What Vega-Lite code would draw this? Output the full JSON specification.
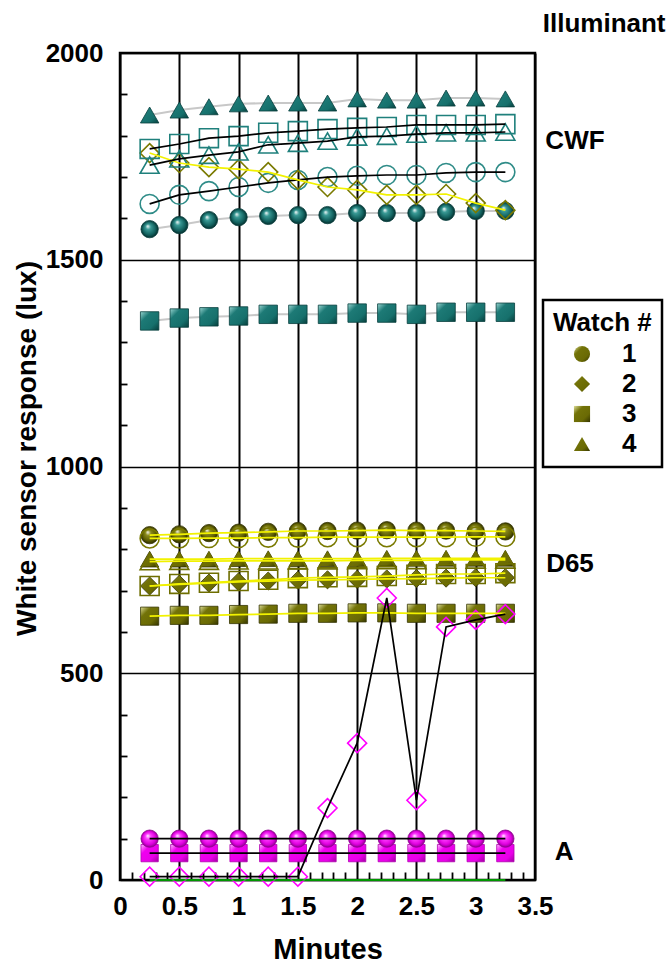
{
 "$schema": "https://vega.github.io/schema/vega-lite/v6.json",
 "width": 415,
 "height": 827,
 "autosize": {"type": "none"},
 "padding": {"left": 120, "top": 53, "right": 134, "bottom": 85},
 "background": "white",
 "config": {
  "font": "Liberation Sans",
  "view": {"stroke": "#000", "strokeWidth": 2.5},
  "axis": {"labelFont": "Liberation Sans", "titleFont": "Liberation Sans", "labelColor": "#000", "titleColor": "#000"},
  "legend": {"strokeWidth": 2.5}
 },
 "datasets": {
  "notes": [
   {"label": "Illuminant", "t": 4.083, "v": 2070},
   {"label": "CWF", "t": 3.837, "v": 1787},
   {"label": "D65", "t": 3.795, "v": 764},
   {"label": "A", "t": 3.745, "v": 68}
  ],
  "main": [
   {"s":"cwf1f","w":"1","t":0.25,"v":1574},{"s":"cwf1f","w":"1","t":0.5,"v":1584},{"s":"cwf1f","w":"1","t":0.75,"v":1596},{"s":"cwf1f","w":"1","t":1,"v":1603},{"s":"cwf1f","w":"1","t":1.25,"v":1606},{"s":"cwf1f","w":"1","t":1.5,"v":1608},{"s":"cwf1f","w":"1","t":1.75,"v":1608},{"s":"cwf1f","w":"1","t":2,"v":1613},{"s":"cwf1f","w":"1","t":2.25,"v":1613},{"s":"cwf1f","w":"1","t":2.5,"v":1613},{"s":"cwf1f","w":"1","t":2.75,"v":1616},{"s":"cwf1f","w":"1","t":3,"v":1618},{"s":"cwf1f","w":"1","t":3.25,"v":1618},
   {"s":"cwf1o","w":"1","t":0.25,"v":1635},{"s":"cwf1o","w":"1","t":0.5,"v":1657},{"s":"cwf1o","w":"1","t":0.75,"v":1666},{"s":"cwf1o","w":"1","t":1,"v":1676},{"s":"cwf1o","w":"1","t":1.25,"v":1686},{"s":"cwf1o","w":"1","t":1.5,"v":1693},{"s":"cwf1o","w":"1","t":1.75,"v":1700},{"s":"cwf1o","w":"1","t":2,"v":1703},{"s":"cwf1o","w":"1","t":2.25,"v":1705},{"s":"cwf1o","w":"1","t":2.5,"v":1705},{"s":"cwf1o","w":"1","t":2.75,"v":1710},{"s":"cwf1o","w":"1","t":3,"v":1712},{"s":"cwf1o","w":"1","t":3.25,"v":1712},
   {"s":"cwf2o","w":"2","t":0.25,"v":1758},{"s":"cwf2o","w":"2","t":0.5,"v":1734},{"s":"cwf2o","w":"2","t":0.75,"v":1724},{"s":"cwf2o","w":"2","t":1,"v":1719},{"s":"cwf2o","w":"2","t":1.25,"v":1712},{"s":"cwf2o","w":"2","t":1.5,"v":1693},{"s":"cwf2o","w":"2","t":1.75,"v":1676},{"s":"cwf2o","w":"2","t":2,"v":1669},{"s":"cwf2o","w":"2","t":2.25,"v":1657},{"s":"cwf2o","w":"2","t":2.5,"v":1657},{"s":"cwf2o","w":"2","t":2.75,"v":1659},{"s":"cwf2o","w":"2","t":3,"v":1637},{"s":"cwf2o","w":"2","t":3.25,"v":1620},
   {"s":"cwf3f","w":"3","t":0.25,"v":1352},{"s":"cwf3f","w":"3","t":0.5,"v":1359},{"s":"cwf3f","w":"3","t":0.75,"v":1362},{"s":"cwf3f","w":"3","t":1,"v":1364},{"s":"cwf3f","w":"3","t":1.25,"v":1368},{"s":"cwf3f","w":"3","t":1.5,"v":1368},{"s":"cwf3f","w":"3","t":1.75,"v":1368},{"s":"cwf3f","w":"3","t":2,"v":1371},{"s":"cwf3f","w":"3","t":2.25,"v":1371},{"s":"cwf3f","w":"3","t":2.5,"v":1368},{"s":"cwf3f","w":"3","t":2.75,"v":1373},{"s":"cwf3f","w":"3","t":3,"v":1373},{"s":"cwf3f","w":"3","t":3.25,"v":1373},
   {"s":"cwf3o","w":"3","t":0.25,"v":1768},{"s":"cwf3o","w":"3","t":0.5,"v":1780},{"s":"cwf3o","w":"3","t":0.75,"v":1794},{"s":"cwf3o","w":"3","t":1,"v":1799},{"s":"cwf3o","w":"3","t":1.25,"v":1807},{"s":"cwf3o","w":"3","t":1.5,"v":1811},{"s":"cwf3o","w":"3","t":1.75,"v":1816},{"s":"cwf3o","w":"3","t":2,"v":1819},{"s":"cwf3o","w":"3","t":2.25,"v":1821},{"s":"cwf3o","w":"3","t":2.5,"v":1826},{"s":"cwf3o","w":"3","t":2.75,"v":1826},{"s":"cwf3o","w":"3","t":3,"v":1826},{"s":"cwf3o","w":"3","t":3.25,"v":1828},
   {"s":"cwf4f","w":"4","t":0.25,"v":1850},{"s":"cwf4f","w":"4","t":0.5,"v":1862},{"s":"cwf4f","w":"4","t":0.75,"v":1870},{"s":"cwf4f","w":"4","t":1,"v":1877},{"s":"cwf4f","w":"4","t":1.25,"v":1879},{"s":"cwf4f","w":"4","t":1.5,"v":1879},{"s":"cwf4f","w":"4","t":1.75,"v":1879},{"s":"cwf4f","w":"4","t":2,"v":1889},{"s":"cwf4f","w":"4","t":2.25,"v":1886},{"s":"cwf4f","w":"4","t":2.5,"v":1886},{"s":"cwf4f","w":"4","t":2.75,"v":1891},{"s":"cwf4f","w":"4","t":3,"v":1891},{"s":"cwf4f","w":"4","t":3.25,"v":1889},
   {"s":"cwf4o","w":"4","t":0.25,"v":1729},{"s":"cwf4o","w":"4","t":0.5,"v":1744},{"s":"cwf4o","w":"4","t":0.75,"v":1753},{"s":"cwf4o","w":"4","t":1,"v":1761},{"s":"cwf4o","w":"4","t":1.25,"v":1778},{"s":"cwf4o","w":"4","t":1.5,"v":1782},{"s":"cwf4o","w":"4","t":1.75,"v":1787},{"s":"cwf4o","w":"4","t":2,"v":1797},{"s":"cwf4o","w":"4","t":2.25,"v":1799},{"s":"cwf4o","w":"4","t":2.5,"v":1804},{"s":"cwf4o","w":"4","t":2.75,"v":1807},{"s":"cwf4o","w":"4","t":3,"v":1807},{"s":"cwf4o","w":"4","t":3.25,"v":1809},
   {"s":"d1f","w":"1","t":0.25,"v":834},{"s":"d1f","w":"1","t":0.5,"v":836},{"s":"d1f","w":"1","t":0.75,"v":839},{"s":"d1f","w":"1","t":1,"v":840},{"s":"d1f","w":"1","t":1.25,"v":842},{"s":"d1f","w":"1","t":1.5,"v":844},{"s":"d1f","w":"1","t":1.75,"v":844},{"s":"d1f","w":"1","t":2,"v":845},{"s":"d1f","w":"1","t":2.25,"v":846},{"s":"d1f","w":"1","t":2.5,"v":845},{"s":"d1f","w":"1","t":2.75,"v":845},{"s":"d1f","w":"1","t":3,"v":844},{"s":"d1f","w":"1","t":3.25,"v":843},
   {"s":"d1o","w":"1","t":0.25,"v":826},{"s":"d1o","w":"1","t":0.5,"v":826},{"s":"d1o","w":"1","t":0.75,"v":827},{"s":"d1o","w":"1","t":1,"v":827},{"s":"d1o","w":"1","t":1.25,"v":828},{"s":"d1o","w":"1","t":1.5,"v":828},{"s":"d1o","w":"1","t":1.75,"v":829},{"s":"d1o","w":"1","t":2,"v":829},{"s":"d1o","w":"1","t":2.25,"v":829},{"s":"d1o","w":"1","t":2.5,"v":829},{"s":"d1o","w":"1","t":2.75,"v":829},{"s":"d1o","w":"1","t":3,"v":830},{"s":"d1o","w":"1","t":3.25,"v":830},
   {"s":"d2f","w":"2","t":0.25,"v":711},{"s":"d2f","w":"2","t":0.5,"v":715},{"s":"d2f","w":"2","t":0.75,"v":718},{"s":"d2f","w":"2","t":1,"v":721},{"s":"d2f","w":"2","t":1.25,"v":723},{"s":"d2f","w":"2","t":1.5,"v":725},{"s":"d2f","w":"2","t":1.75,"v":726},{"s":"d2f","w":"2","t":2,"v":727},{"s":"d2f","w":"2","t":2.25,"v":728},{"s":"d2f","w":"2","t":2.5,"v":729},{"s":"d2f","w":"2","t":2.75,"v":730},{"s":"d2f","w":"2","t":3,"v":731},{"s":"d2f","w":"2","t":3.25,"v":731},
   {"s":"d3f","w":"3","t":0.25,"v":638},{"s":"d3f","w":"3","t":0.5,"v":640},{"s":"d3f","w":"3","t":0.75,"v":640},{"s":"d3f","w":"3","t":1,"v":642},{"s":"d3f","w":"3","t":1.25,"v":643},{"s":"d3f","w":"3","t":1.5,"v":645},{"s":"d3f","w":"3","t":1.75,"v":645},{"s":"d3f","w":"3","t":2,"v":646},{"s":"d3f","w":"3","t":2.25,"v":646},{"s":"d3f","w":"3","t":2.5,"v":645},{"s":"d3f","w":"3","t":2.75,"v":645},{"s":"d3f","w":"3","t":3,"v":645},{"s":"d3f","w":"3","t":3.25,"v":645},
   {"s":"d3o","w":"3","t":0.25,"v":711},{"s":"d3o","w":"3","t":0.5,"v":716},{"s":"d3o","w":"3","t":0.75,"v":719},{"s":"d3o","w":"3","t":1,"v":723},{"s":"d3o","w":"3","t":1.25,"v":726},{"s":"d3o","w":"3","t":1.5,"v":730},{"s":"d3o","w":"3","t":1.75,"v":732},{"s":"d3o","w":"3","t":2,"v":733},{"s":"d3o","w":"3","t":2.25,"v":735},{"s":"d3o","w":"3","t":2.5,"v":738},{"s":"d3o","w":"3","t":2.75,"v":740},{"s":"d3o","w":"3","t":3,"v":740},{"s":"d3o","w":"3","t":3.25,"v":742},
   {"s":"d4f","w":"4","t":0.25,"v":776},{"s":"d4f","w":"4","t":0.5,"v":776},{"s":"d4f","w":"4","t":0.75,"v":776},{"s":"d4f","w":"4","t":1,"v":777},{"s":"d4f","w":"4","t":1.25,"v":777},{"s":"d4f","w":"4","t":1.5,"v":777},{"s":"d4f","w":"4","t":1.75,"v":777},{"s":"d4f","w":"4","t":2,"v":777},{"s":"d4f","w":"4","t":2.25,"v":778},{"s":"d4f","w":"4","t":2.5,"v":778},{"s":"d4f","w":"4","t":2.75,"v":778},{"s":"d4f","w":"4","t":3,"v":778},{"s":"d4f","w":"4","t":3.25,"v":778},
   {"s":"d4o","w":"4","t":0.25,"v":770},{"s":"d4o","w":"4","t":0.5,"v":771},{"s":"d4o","w":"4","t":0.75,"v":771},{"s":"d4o","w":"4","t":1,"v":772},{"s":"d4o","w":"4","t":1.25,"v":772},{"s":"d4o","w":"4","t":1.5,"v":772},{"s":"d4o","w":"4","t":1.75,"v":772},{"s":"d4o","w":"4","t":2,"v":773},{"s":"d4o","w":"4","t":2.25,"v":773},{"s":"d4o","w":"4","t":2.5,"v":773},{"s":"d4o","w":"4","t":2.75,"v":774},{"s":"d4o","w":"4","t":3,"v":774},{"s":"d4o","w":"4","t":3.25,"v":774},
   {"s":"a1f","w":"1","t":0.25,"v":100},{"s":"a1f","w":"1","t":0.5,"v":100},{"s":"a1f","w":"1","t":0.75,"v":100},{"s":"a1f","w":"1","t":1,"v":100},{"s":"a1f","w":"1","t":1.25,"v":100},{"s":"a1f","w":"1","t":1.5,"v":100},{"s":"a1f","w":"1","t":1.75,"v":100},{"s":"a1f","w":"1","t":2,"v":100},{"s":"a1f","w":"1","t":2.25,"v":100},{"s":"a1f","w":"1","t":2.5,"v":100},{"s":"a1f","w":"1","t":2.75,"v":100},{"s":"a1f","w":"1","t":3,"v":100},{"s":"a1f","w":"1","t":3.25,"v":100},
   {"s":"a3f","w":"3","t":0.25,"v":65},{"s":"a3f","w":"3","t":0.5,"v":65},{"s":"a3f","w":"3","t":0.75,"v":65},{"s":"a3f","w":"3","t":1,"v":65},{"s":"a3f","w":"3","t":1.25,"v":65},{"s":"a3f","w":"3","t":1.5,"v":65},{"s":"a3f","w":"3","t":1.75,"v":65},{"s":"a3f","w":"3","t":2,"v":65},{"s":"a3f","w":"3","t":2.25,"v":65},{"s":"a3f","w":"3","t":2.5,"v":65},{"s":"a3f","w":"3","t":2.75,"v":65},{"s":"a3f","w":"3","t":3,"v":65},{"s":"a3f","w":"3","t":3.25,"v":65},
   {"s":"a2o","w":"2","t":0.25,"v":8},{"s":"a2o","w":"2","t":0.5,"v":8},{"s":"a2o","w":"2","t":0.75,"v":8},{"s":"a2o","w":"2","t":1,"v":8},{"s":"a2o","w":"2","t":1.25,"v":8},{"s":"a2o","w":"2","t":1.5,"v":8},{"s":"a2o","w":"2","t":1.75,"v":174},{"s":"a2o","w":"2","t":2,"v":331},{"s":"a2o","w":"2","t":2.25,"v":682},{"s":"a2o","w":"2","t":2.5,"v":193},{"s":"a2o","w":"2","t":2.75,"v":612},{"s":"a2o","w":"2","t":3,"v":629},{"s":"a2o","w":"2","t":3.25,"v":643},
   {"s":"a0","w":"2","t":0.25,"v":0},{"s":"a0","w":"2","t":0.5,"v":0},{"s":"a0","w":"2","t":0.75,"v":0},{"s":"a0","w":"2","t":1,"v":0},{"s":"a0","w":"2","t":1.25,"v":0},{"s":"a0","w":"2","t":1.5,"v":0},{"s":"a0","w":"2","t":1.75,"v":0},{"s":"a0","w":"2","t":2,"v":0},{"s":"a0","w":"2","t":2.25,"v":0},{"s":"a0","w":"2","t":2.5,"v":0},{"s":"a0","w":"2","t":2.75,"v":0},{"s":"a0","w":"2","t":3,"v":0},{"s":"a0","w":"2","t":3.25,"v":0}
  ]
 },
 "data": {"name": "main"},
 "layer": [
  {
   "transform": [{"filter": {"field": "s", "oneOf": ["cwf1f", "cwf3f", "cwf4f"]}}],
   "mark": {"type": "line", "strokeWidth": 2},
   "encoding": {
    "x": {"field": "t", "type": "quantitative", "scale": {"domain": [0, 3.5], "nice": false, "zero": false},
     "axis": {"values": [0, 0.5, 1, 1.5, 2, 2.5, 3, 3.5], "format": "~g", "grid": true, "gridColor": "#000", "gridWidth": 2, "gridOpacity": 1, "ticks": false, "domain": false, "labelFontSize": 26, "labelFontWeight": "bold", "labelPadding": 13, "labelFlush": false, "labelOverlap": false, "title": "Minutes", "titleFontSize": 29, "titleFontWeight": "bold", "titlePadding": 16}},
    "y": {"field": "v", "type": "quantitative", "scale": {"domain": [0, 2000], "nice": false},
     "axis": {"values": [0, 500, 1000, 1500, 2000], "format": "d", "grid": true, "gridColor": "#000", "gridWidth": 1.5, "gridOpacity": 1, "ticks": false, "domain": false, "labelFontSize": 26, "labelFontWeight": "bold", "labelPadding": 17, "labelFlush": false, "labelOverlap": false, "title": "White sensor response (lux)", "titleFontSize": 28, "titleFontWeight": "bold", "titleX": -85, "titleY": 395, "titleBaseline": "alphabetic", "titleAngle": -90, "titleAlign": "center"}},
    "color": {"field": "s", "type": "nominal", "legend": null,
     "scale": {"domain": ["cwf1f","cwf3f","cwf4f","cwf1o","cwf3o","cwf4o","cwf2o","d1f","d1o","d2f","d3f","d3o","d4f","d4o","a1f","a3f","a2o","a0"],
      "range": ["#c8c8c8","#c8c8c8","#c8c8c8","#000000","#000000","#000000","#f2f200","#f2f200","#f2f200","#f2f200","#f2f200","#f2f200","#f2f200","#f2f200","#000000","#000000","#000000","#00c800"]}}
   }
  },
  {
   "transform": [{"filter": {"field": "s", "oneOf": ["d2f", "d3f", "d4f"]}}],
   "mark": {"type": "point", "filled": true, "opacity": 1, "size": 330, "stroke": "#353500", "strokeWidth": 0.8,
    "fill": {"gradient": "linear", "x1": 0, "y1": 0, "x2": 1, "y2": 1, "stops": [{"offset": 0, "color": "#dede9a"}, {"offset": 0.3, "color": "#737308"}, {"offset": 0.7, "color": "#6a6a04"}, {"offset": 1, "color": "#353500"}]}},
   "encoding": {
    "x": {"field": "t", "type": "quantitative", "scale": {"domain": [0, 3.5], "nice": false, "zero": false},
     "axis": {"orient": "bottom", "values": [0.1,0.2,0.3,0.4,0.6,0.7,0.8,0.9,1.1,1.2,1.3,1.4,1.6,1.7,1.8,1.9,2.1,2.2,2.3,2.4,2.6,2.7,2.8,2.9,3.1,3.2,3.3,3.4], "labels": false, "ticks": true, "tickSize": -8, "tickWidth": 1.8, "tickColor": "#000", "grid": false, "domain": false, "title": null}},
    "y": {"field": "v", "type": "quantitative", "scale": {"domain": [0, 2000], "nice": false},
     "axis": {"orient": "left", "values": [100,200,300,400,600,700,800,900,1100,1200,1300,1400,1600,1700,1800,1900], "labels": false, "ticks": true, "tickSize": -7, "tickWidth": 1.8, "tickColor": "#000", "grid": false, "domain": false, "title": null}},
    "shape": {"field": "w", "type": "nominal", "scale": {"domain": ["1", "2", "3", "4"], "range": ["circle", "diamond", "square", "triangle-up"]},
     "legend": {"title": "Watch #", "orient": "none", "legendX": 423, "legendY": 247, "fillColor": "#fff", "strokeColor": "#000", "padding": 10, "titleFontSize": 26, "titleFontWeight": "bold", "titleColor": "#000", "titleFont": "Liberation Sans", "labelFontSize": 26, "labelFontWeight": "bold", "labelColor": "#000", "labelFont": "Liberation Sans", "symbolSize": 260, "symbolFillColor": "#6e6e06", "symbolStrokeColor": "#3a3a00", "symbolStrokeWidth": 1, "symbolOpacity": 1, "symbolOffset": 16, "labelOffset": 27, "rowPadding": 4, "titlePadding": 5}}
   }
  },
  {
   "transform": [{"filter": {"field": "s", "oneOf": ["d1f"]}}],
   "mark": {"type": "point", "filled": true, "opacity": 1, "size": 300, "stroke": "#353500", "strokeWidth": 0.8,
    "fill": {"gradient": "radial", "x1": 0.38, "y1": 0.32, "r1": 0, "x2": 0.5, "y2": 0.5, "r2": 0.5, "stops": [{"offset": 0, "color": "#ffffff"}, {"offset": 0.3, "color": "#8c8c1c"}, {"offset": 0.75, "color": "#5e5e02"}, {"offset": 1, "color": "#2e2e00"}]}},
   "encoding": {
    "x": {"field": "t", "type": "quantitative", "scale": {"domain": [0, 3.5], "nice": false, "zero": false}, "axis": null},
    "y": {"field": "v", "type": "quantitative", "scale": {"domain": [0, 2000], "nice": false}, "axis": null},
    "shape": {"field": "w", "type": "nominal", "scale": {"domain": ["1", "2", "3", "4"], "range": ["circle", "diamond", "square", "triangle-up"]}}
   }
  },
  {
   "transform": [{"filter": {"field": "s", "oneOf": ["cwf3f", "cwf4f"]}}],
   "mark": {"type": "point", "filled": true, "opacity": 1, "size": 340, "stroke": "#083f3d", "strokeWidth": 0.8,
    "fill": {"gradient": "linear", "x1": 0, "y1": 0, "x2": 1, "y2": 1, "stops": [{"offset": 0, "color": "#9ad6d2"}, {"offset": 0.3, "color": "#1d7a76"}, {"offset": 0.7, "color": "#16706c"}, {"offset": 1, "color": "#073e3c"}]}},
   "encoding": {
    "x": {"field": "t", "type": "quantitative", "scale": {"domain": [0, 3.5], "nice": false, "zero": false}, "axis": null},
    "y": {"field": "v", "type": "quantitative", "scale": {"domain": [0, 2000], "nice": false}, "axis": null},
    "shape": {"field": "w", "type": "nominal", "scale": {"domain": ["1", "2", "3", "4"], "range": ["circle", "diamond", "square", "triangle-up"]}}
   }
  },
  {
   "transform": [{"filter": {"field": "s", "oneOf": ["cwf1f"]}}],
   "mark": {"type": "point", "filled": true, "opacity": 1, "size": 300, "stroke": "#083f3d", "strokeWidth": 0.8,
    "fill": {"gradient": "radial", "x1": 0.38, "y1": 0.32, "r1": 0, "x2": 0.5, "y2": 0.5, "r2": 0.5, "stops": [{"offset": 0, "color": "#ffffff"}, {"offset": 0.3, "color": "#3a9a96"}, {"offset": 0.75, "color": "#11605d"}, {"offset": 1, "color": "#062f2e"}]}},
   "encoding": {
    "x": {"field": "t", "type": "quantitative", "scale": {"domain": [0, 3.5], "nice": false, "zero": false}, "axis": null},
    "y": {"field": "v", "type": "quantitative", "scale": {"domain": [0, 2000], "nice": false}, "axis": null},
    "shape": {"field": "w", "type": "nominal", "scale": {"domain": ["1", "2", "3", "4"], "range": ["circle", "diamond", "square", "triangle-up"]}}
   }
  },
  {
   "transform": [{"filter": {"field": "s", "oneOf": ["a3f"]}}],
   "mark": {"type": "point", "filled": true, "opacity": 1, "size": 300, "stroke": "#b000b0", "strokeWidth": 0.8,
    "fill": {"gradient": "linear", "x1": 0, "y1": 0, "x2": 1, "y2": 1, "stops": [{"offset": 0, "color": "#ffb8ff"}, {"offset": 0.3, "color": "#f000f0"}, {"offset": 0.7, "color": "#e800e8"}, {"offset": 1, "color": "#a000a0"}]}},
   "encoding": {
    "x": {"field": "t", "type": "quantitative", "scale": {"domain": [0, 3.5], "nice": false, "zero": false}, "axis": null},
    "y": {"field": "v", "type": "quantitative", "scale": {"domain": [0, 2000], "nice": false}, "axis": null},
    "shape": {"field": "w", "type": "nominal", "scale": {"domain": ["1", "2", "3", "4"], "range": ["circle", "diamond", "square", "triangle-up"]}}
   }
  },
  {
   "transform": [{"filter": {"field": "s", "oneOf": ["a1f"]}}],
   "mark": {"type": "point", "filled": true, "opacity": 1, "size": 300, "stroke": "#900090", "strokeWidth": 0.8,
    "fill": {"gradient": "radial", "x1": 0.38, "y1": 0.32, "r1": 0, "x2": 0.5, "y2": 0.5, "r2": 0.5, "stops": [{"offset": 0, "color": "#ffffff"}, {"offset": 0.3, "color": "#ff40ff"}, {"offset": 0.75, "color": "#e000e0"}, {"offset": 1, "color": "#900090"}]}},
   "encoding": {
    "x": {"field": "t", "type": "quantitative", "scale": {"domain": [0, 3.5], "nice": false, "zero": false}, "axis": null},
    "y": {"field": "v", "type": "quantitative", "scale": {"domain": [0, 2000], "nice": false}, "axis": null},
    "shape": {"field": "w", "type": "nominal", "scale": {"domain": ["1", "2", "3", "4"], "range": ["circle", "diamond", "square", "triangle-up"]}}
   }
  },
  {
   "transform": [{"filter": {"field": "s", "oneOf": ["cwf1o", "cwf2o", "cwf3o", "cwf4o", "d1o", "d3o", "d4o", "a2o"]}}],
   "mark": {"type": "point", "filled": false, "opacity": 1, "size": 360, "strokeWidth": 1.6},
   "encoding": {
    "x": {"field": "t", "type": "quantitative", "scale": {"domain": [0, 3.5], "nice": false, "zero": false}, "axis": null},
    "y": {"field": "v", "type": "quantitative", "scale": {"domain": [0, 2000], "nice": false}, "axis": null},
    "stroke": {"field": "s", "type": "nominal", "legend": null, "scale": {"domain": ["cwf1o", "cwf2o", "cwf3o", "cwf4o", "d1o", "d3o", "d4o", "a2o"], "range": ["#2f8c88", "#7a7a00", "#1f807c", "#1f807c", "#7a7a00", "#6e6e00", "#6e6e00", "#ff00ff"]}},
    "shape": {"field": "w", "type": "nominal", "scale": {"domain": ["1", "2", "3", "4"], "range": ["circle", "diamond", "square", "triangle-up"]}}
   }
  },
  {
   "transform": [{"filter": {"field": "s", "oneOf": ["cwf1o","cwf3o","cwf4o","cwf2o","d1f","d1o","d2f","d3f","d3o","d4f","d4o","a1f","a3f","a2o","a0"]}}],
   "mark": {"type": "line", "strokeWidth": 1.7},
   "encoding": {
    "x": {"field": "t", "type": "quantitative", "scale": {"domain": [0, 3.5], "nice": false, "zero": false}, "axis": null},
    "y": {"field": "v", "type": "quantitative", "scale": {"domain": [0, 2000], "nice": false}, "axis": null},
    "color": {"field": "s", "type": "nominal", "legend": null,
     "scale": {"domain": ["cwf1f","cwf3f","cwf4f","cwf1o","cwf3o","cwf4o","cwf2o","d1f","d1o","d2f","d3f","d3o","d4f","d4o","a1f","a3f","a2o","a0"],
      "range": ["#c8c8c8","#c8c8c8","#c8c8c8","#000000","#000000","#000000","#f2f200","#f2f200","#f2f200","#f2f200","#f2f200","#f2f200","#f2f200","#f2f200","#000000","#000000","#000000","#00c800"]}}
   }
  },
  {
   "data": {"name": "notes"},
   "mark": {"type": "text", "font": "Liberation Sans", "fontSize": 26, "fontWeight": "bold", "color": "#000", "align": "center", "baseline": "middle"},
   "encoding": {
    "x": {"field": "t", "type": "quantitative", "scale": {"domain": [0, 3.5], "nice": false, "zero": false}, "axis": null},
    "y": {"field": "v", "type": "quantitative", "scale": {"domain": [0, 2000], "nice": false}, "axis": null},
    "text": {"field": "label", "type": "nominal"}
   }
  }
 ],
 "resolve": {"axis": {"x": "independent", "y": "independent"}}
}
